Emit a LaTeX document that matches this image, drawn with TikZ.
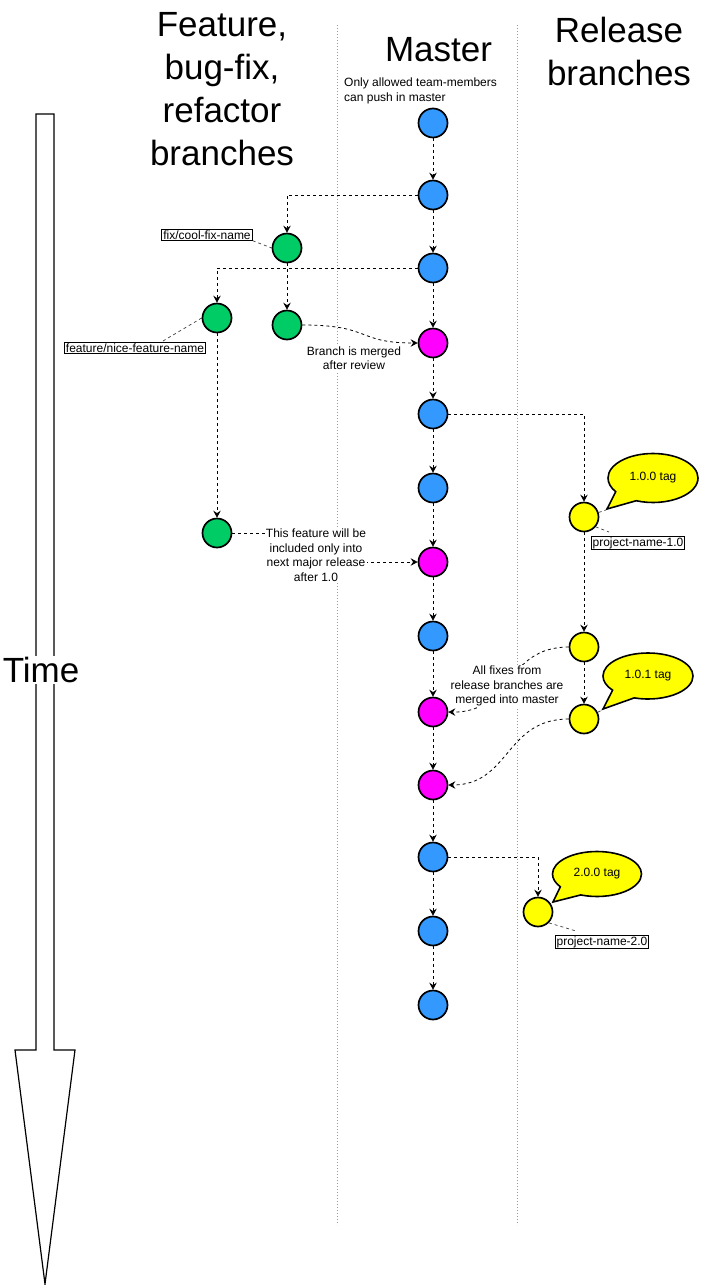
\documentclass[tikz,border=0pt]{standalone}
\usepackage{fontspec}
\setmainfont{Liberation Sans}
\usetikzlibrary{arrows.meta,shapes.callouts,shapes.geometric}
\pgfdeclarelayer{bg}
\pgfsetlayers{bg,main}
\definecolor{cblue}{HTML}{3399FF}
\definecolor{cgreen}{HTML}{00CC66}
\definecolor{cmag}{HTML}{FF00FF}
\definecolor{cyel}{HTML}{FFFF00}
\definecolor{csep}{HTML}{999999}
\begin{document}
\begin{tikzpicture}[x=1pt,y=-1pt,
  commit/.style={circle,draw,line width=1.7pt,minimum size=29pt,inner sep=0pt},
  mc/.style={commit,fill=cblue},
  mg/.style={commit,fill=cmag},
  gc/.style={commit,fill=cgreen},
  yc/.style={commit,fill=cyel},
  conn/.style={draw=black,line width=0.8pt,dash pattern=on 3pt off 3pt,-{Stealth[length=7pt,width=7.5pt,inset=2.5pt]}},
  lk/.style={draw=black!75,line width=0.7pt,dash pattern=on 3pt off 3pt},
  sepline/.style={draw=csep,line width=0.8pt,dash pattern=on 1pt off 2pt},
  txt/.style={font=\fontsize{12}{14.5}\selectfont,align=center,inner sep=1pt},
  notetxt/.style={txt,fill=white},
  big/.style={font=\fontsize{35}{43}\selectfont,align=center,inner sep=0pt},
  namebox/.style={draw,line width=1pt,font=\fontsize{12}{14}\selectfont,inner xsep=1.5pt,inner ysep=0.8pt},
  tagcall/.style={ellipse callout,draw,line width=1.6pt,fill=cyel,callout pointer arc=34,inner sep=0pt,font=\fontsize{12}{14}\selectfont}
]
\useasboundingbox (0,0) rectangle (705,1285);

% Time arrow
\draw[line width=1.2pt,line join=miter] (36,114) -- (54,114) -- (54,1050) -- (75,1050) -- (45,1284) -- (15,1050) -- (36,1050) -- cycle;
\node[big,fill=white,inner sep=1pt] (time) at (41,670) {Time};

% headers
\node[big] (hfeat) at (222,89) {Feature,\\bug-fix,\\refactor\\branches};
\node[big] (hmaster) at (438.5,50) {Master};
\node[big] (hrel) at (619,51) {Release\\branches};
\node[txt,align=left,anchor=west,inner sep=0pt] (mnote) at (344,91) {Only allowed team-members\\can push in master};

% master commits
\node[mc] (m1) at (433,123) {};
\node[mc] (m2) at (433,195) {};
\node[mc] (m3) at (433,268) {};
\node[mg] (m4) at (433,343) {};
\node[mc] (m5) at (433,414) {};
\node[mc] (m6) at (433,488) {};
\node[mg] (m7) at (433,562) {};
\node[mc] (m8) at (433,636) {};
\node[mg] (m9) at (433,712) {};
\node[mg] (m10) at (433,785) {};
\node[mc] (m11) at (433,857) {};
\node[mc] (m12) at (433,931) {};
\node[mc] (m13) at (433,1005) {};

% feature / fix commits
\node[gc] (fx1) at (287,248) {};
\node[gc] (fx2) at (287,325) {};
\node[gc] (ft1) at (217,318) {};
\node[gc] (ft2) at (217,533) {};

% release commits
\node[yc] (r1) at (584,517) {};
\node[yc] (r2) at (584,647) {};
\node[yc] (r3) at (584,719) {};
\node[yc] (r4) at (538,912) {};

% name boxes
\node[namebox] (fixlab) at (207,235) {fix/cool-fix-name};
\node[namebox] (featlab) at (135,348) {feature/nice-feature-name};
\node[namebox] (pn1) at (638,543) {project-name-1.0};
\node[namebox] (pn2) at (602,942) {project-name-2.0};
\coordinate (featlk) at (163,341);
\coordinate (pn1lk) at (609,532);
\coordinate (pn2lk) at (576,931);

% tags
\node[tagcall,minimum width=90pt,minimum height=49pt,callout absolute pointer={(607,509)}] (tag1) at (653,478) {1.0.0 tag};
\node[tagcall,minimum width=90pt,minimum height=46pt,callout absolute pointer={(603,709)}] (tag2) at (648,676) {1.0.1 tag};
\node[tagcall,minimum width=89pt,minimum height=45pt,callout absolute pointer={(553,902)}] (tag3) at (597,874) {2.0.0 tag};

% notes
\node[notetxt] (n1) at (354,358) {Branch is merged\\after review};
\node[notetxt] (n2) at (316,555) {This feature will be\\included only into\\next major release\\after 1.0};
\node[notetxt] (n3) at (507,686) {All fixes from\\release branches are\\merged into master};

\begin{pgfonlayer}{bg}
  \draw[sepline] (337,25) -- (337,1225);
  \draw[sepline] (517,25) -- (517,1225);
  \foreach \a/\b in {m1/m2,m2/m3,m3/m4,m4/m5,m5/m6,m6/m7,m7/m8,m8/m9,m9/m10,m10/m11,m11/m12,m12/m13}
    \draw[conn] (\a) -- (\b);
  \draw[conn] (m2.west) -| (fx1.north);
  \draw[conn] (fx1) -- (fx2);
  \draw[conn] (m3.west) -| (ft1.north);
  \draw[conn] (ft1) -- (ft2);
  \draw[conn] (fx2.east) .. controls (372,325) and (356,343) .. (m4.west);
  \draw[conn] (ft2.east) -| (n2.center) |- (m7.west);
  \draw[conn] (m5.east) -| (r1.north);
  \draw[conn] (r1) -- (r2);
  \draw[conn] (r2) -- (r3);
  \draw[conn] (r2.west) .. controls (505,647) and (512,713) .. (m9.east);
  \draw[conn] (r3.west) .. controls (505,719) and (510,785) .. (m10.east);
  \draw[conn] (m11.east) -| (r4.north);
  \draw[lk] (fixlab.south east) -- (fx1.west);
  \draw[lk] (featlk) -- (ft1.west);
  \draw[lk] (r1) -- (tag1.pointer);
  \draw[lk] (r1.-40) -- (pn1lk);
  \draw[lk] (r3) -- (tag2.pointer);
  \draw[lk] (r4.-45) -- (pn2lk);
\end{pgfonlayer}
\end{tikzpicture}
\end{document}
